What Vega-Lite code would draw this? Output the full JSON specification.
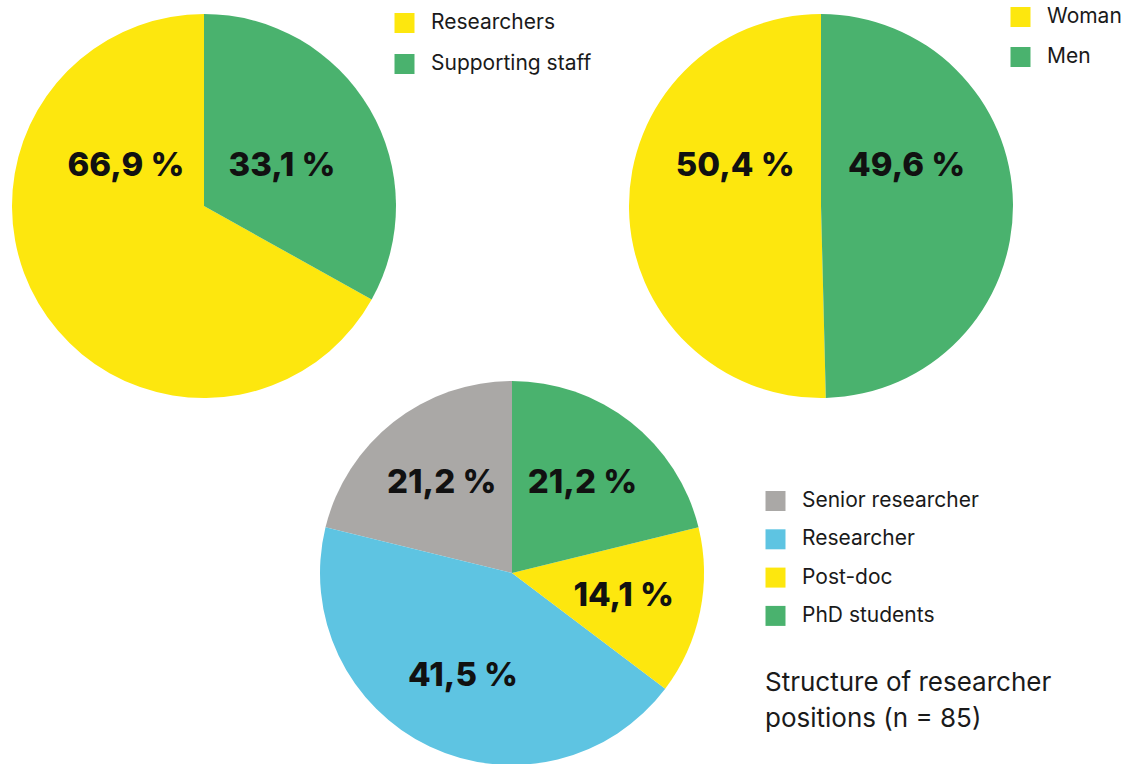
{
  "$schema": "https://vega.github.io/schema/vega-lite/v6.json",
  "background": "white",
  "padding": {"left": 12, "top": 6, "right": 0, "bottom": 0},
  "spacing": -17,
  "config": {
    "view": {"stroke": null},
    "font": "Inter",
    "legend": {
      "symbolType": "square",
      "symbolSize": 400,
      "symbolStrokeWidth": 0,
      "symbolOpacity": 1,
      "labelFont": "Inter",
      "labelFontSize": 21,
      "labelColor": "#1a1a1a",
      "labelOffset": 16,
      "labelLimit": 500,
      "titleFont": "Inter"
    }
  },
  "datasets": {
    "staff": [
      {"category": "Researchers", "share": 66.9, "label": "66,9 %"},
      {"category": "Supporting staff", "share": 33.1, "label": "33,1 %"}
    ],
    "gender": [
      {"category": "Woman", "share": 50.4, "label": "50,4 %"},
      {"category": "Men", "share": 49.6, "label": "49,6 %"}
    ],
    "positions": [
      {"category": "Senior researcher", "count": 18, "label": "21,2 %"},
      {"category": "Researcher", "count": 37, "label": "41,5 %"},
      {"category": "Post-doc", "count": 12, "label": "14,1 %"},
      {"category": "PhD students", "count": 18, "label": "21,2 %"}
    ]
  },
  "vconcat": [
    {
      "spacing": 37,
      "hconcat": [
        {
          "width": 384,
          "height": 384,
          "data": {"name": "staff"},
          "layer": [
            {
              "mark": {"type": "arc", "outerRadius": 192},
              "encoding": {
                "theta": {"field": "share", "type": "quantitative", "stack": true},
                "color": {
                  "field": "category",
                  "type": "nominal",
                  "scale": {"domain": ["Researchers", "Supporting staff"], "range": ["#FDE70E", "#4AB26E"]},
                  "legend": {"title": null, "orient": "none", "legendX": 382, "legendY": -1.5, "rowPadding": 19}
                },
                "order": {"field": "category", "sort": "descending"}
              }
            },
            {
              "mark": {"type": "text", "font": "Inter", "fontWeight": 800, "fontSize": 33, "dy": -40},
              "encoding": {
                "x": {"field": "category", "type": "nominal", "sort": ["Researchers", "Supporting staff"], "scale": {"type": "point", "padding": 0.73}, "axis": null},
                "text": {"field": "label"},
                "color": {"value": "#111111"}
              }
            }
          ]
        },
        {
          "width": 384,
          "height": 384,
          "data": {"name": "gender"},
          "layer": [
            {
              "mark": {"type": "arc", "outerRadius": 192},
              "encoding": {
                "theta": {"field": "share", "type": "quantitative", "stack": true},
                "color": {
                  "field": "category",
                  "type": "nominal",
                  "scale": {"domain": ["Woman", "Men"], "range": ["#FDE70E", "#4AB26E"]},
                  "legend": {"title": null, "orient": "none", "legendX": 381, "legendY": -7.5, "rowPadding": 18}
                },
                "order": {"field": "category", "sort": "ascending"}
              }
            },
            {
              "mark": {"type": "text", "font": "Inter", "fontWeight": 800, "fontSize": 33, "dy": -40},
              "encoding": {
                "x": {"field": "category", "type": "nominal", "sort": ["Woman", "Men"], "scale": {"type": "point", "padding": 0.62}, "axis": null},
                "text": {"field": "label"},
                "color": {"value": "#111111"}
              }
            }
          ]
        }
      ],
      "resolve": {"scale": {"color": "independent", "theta": "independent", "x": "independent"}, "legend": {"color": "independent"}}
    },
    {
      "width": 1000,
      "height": 350,
      "data": {"name": "positions"},
      "layer": [
        {
          "mark": {"type": "arc", "outerRadius": 192},
          "encoding": {
            "theta": {"field": "count", "type": "quantitative", "stack": true},
            "color": {
              "field": "category",
              "type": "nominal",
              "scale": {"domain": ["Senior researcher", "Researcher", "Post-doc", "PhD students"], "range": ["#AAA8A6", "#5EC4E2", "#FDE70E", "#4AB26E"]},
              "legend": {
                "title": ["Structure of researcher", "positions (n = 85)"],
                "titleOrient": "bottom",
                "titleFontSize": 26,
                "titleFontWeight": "normal",
                "titleColor": "#1a1a1a",
                "titleLineHeight": 36,
                "titlePadding": 44,
                "titleLimit": 600,
                "titleAnchor": "start",
                "titleAlign": "left",
                "orient": "none",
                "legendX": 753,
                "legendY": 92.5,
                "rowPadding": 16.3
              }
            },
            "order": {"field": "category", "sort": "ascending"}
          }
        },
        {
          "mark": {"type": "text", "font": "Inter", "fontWeight": 800, "fontSize": 33, "radius": 114},
          "encoding": {
            "theta": {"field": "count", "type": "quantitative", "stack": true},
            "detail": {"field": "category", "type": "nominal"},
            "order": {"field": "category", "sort": "ascending"},
            "text": {"field": "label"},
            "color": {"value": "#111111"}
          }
        }
      ]
    }
  ],
  "resolve": {"scale": {"color": "independent", "theta": "independent", "x": "independent"}, "legend": {"color": "independent"}}
}
